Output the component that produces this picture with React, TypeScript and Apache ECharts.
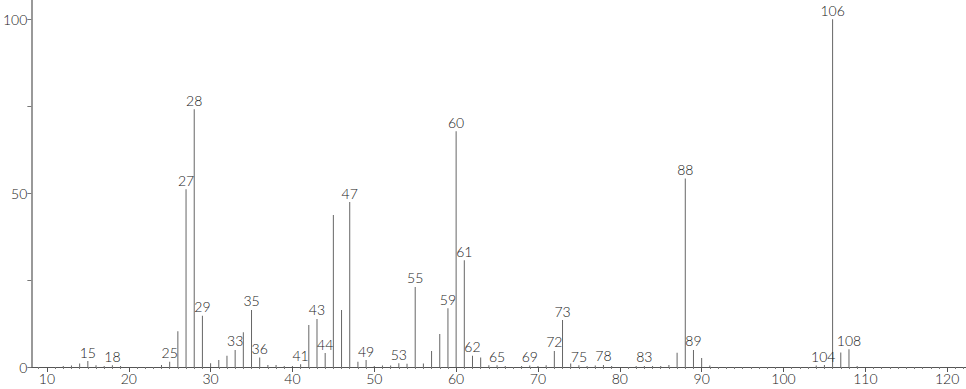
import React, { useEffect, useRef } from "react";
import * as echarts from "echarts";

const mz = [12, 13, 14, 15, 16, 17, 18, 19, 24, 25, 26, 27, 28, 29, 30, 31, 32, 33, 34, 35, 36, 37, 38, 39, 40, 41, 42, 43, 44, 45, 46, 47, 48, 49, 50, 51, 52, 53, 54, 55, 56, 57, 58, 59, 60, 61, 62, 63, 64, 65, 66, 68, 69, 70, 71, 72, 73, 74, 75, 76, 77, 78, 79, 82, 83, 84, 85, 86, 87, 88, 89, 90, 91, 104, 105, 106, 107, 108, 109];
const intensity = [0.3, 0.4, 1.0, 1.7, 0.5, 0.3, 0.5, 0.3, 0.6, 1.5, 10.3, 51.1, 74.1, 14.7, 1.1, 2.0, 3.2, 4.9, 10.0, 16.4, 2.7, 0.6, 0.6, 0.3, 0.3, 0.8, 12.1, 13.8, 4.0, 43.7, 16.4, 47.4, 1.5, 2.0, 0.3, 0.4, 0.4, 1.1, 0.9, 23.0, 1.0, 4.6, 9.5, 16.9, 67.8, 30.7, 3.2, 2.7, 0.5, 0.5, 0.3, 0.3, 0.4, 0.3, 0.5, 4.6, 13.5, 1.0, 0.5, 0.3, 0.4, 0.6, 0.3, 0.3, 0.3, 0.3, 0.3, 0.6, 4.1, 54.2, 4.9, 2.6, 0.4, 0.4, 0.6, 100, 4.2, 5.1, 0.3];
const labelled = [15, 18, 25, 27, 28, 29, 33, 35, 36, 41, 43, 44, 47, 49, 53, 55, 59, 60, 61, 62, 65, 69, 72, 73, 75, 78, 83, 88, 89, 104, 106, 108];
const labelShift: Record<number, number> = { 104: 7 };
const xTicks = [10, 20, 30, 40, 50, 60, 70, 80, 90, 100, 110, 120];
const yTicks = [0, 25, 50, 75, 100];
const yLabels = [0, 50, 100];

const FONT = "'Lato Light', Lato, sans-serif";

export default function App() {
  const ref = useRef<HTMLDivElement>(null);
  useEffect(() => {
    if (!ref.current) return;
    const chart = echarts.init(ref.current, undefined, { renderer: "svg" });
    const minorTicks: number[] = [];
    for (let v = 9; v <= 122; v++) if (v % 10 !== 0) minorTicks.push(v);
    const data = mz.map((m, i) => {
      const item: any = { value: [m, intensity[i]] };
      if (labelled.includes(m)) {
        item.label = {
          show: true,
          position: "top",
          distance: 2,
          formatter: String(m),
          offset: [labelShift[m] || 0, 0],
        };
      }
      return item;
    });
    chart.setOption({
      animation: false,
      grid: { left: 29, right: 0, top: 0, bottom: 22, containLabel: false },
      xAxis: [
        {
          type: "value",
          min: 8.1,
          max: 122.3,
          axisLine: { show: true, lineStyle: { color: "#555", width: 1 } },
          axisTick: { show: true, length: 5, lineStyle: { color: "#555" }, customValues: xTicks },
          axisLabel: {
            show: true,
            customValues: xTicks,
            color: "#222",
            fontFamily: FONT,
            fontWeight: 300,
            fontSize: 14,
            margin: 4,
          },
          splitLine: { show: false },
        },
        {
          type: "value",
          position: "bottom",
          min: 8.1,
          max: 122.3,
          axisLine: { show: false },
          axisTick: { show: true, length: 2, lineStyle: { color: "#777" }, customValues: minorTicks },
          axisLabel: { show: false },
          splitLine: { show: false },
        },
      ],
      yAxis: {
        type: "value",
        min: 0,
        max: 105.5,
        axisLine: { show: true, lineStyle: { color: "#999", width: 2 } },
        axisTick: { show: true, length: 4, lineStyle: { color: "#777" }, customValues: yTicks },
        axisLabel: {
          show: true,
          customValues: yLabels,
          color: "#222",
          fontFamily: FONT,
          fontWeight: 300,
          fontSize: 14,
          margin: 4,
        },
        splitLine: { show: false },
      },
      series: [
        {
          type: "bar",
          xAxisIndex: 0,
          barWidth: 1,
          itemStyle: { color: "#666" },
          label: { show: false, color: "#222", fontFamily: FONT, fontWeight: 300, fontSize: 14 },
          data,
        },
      ],
    });
    return () => chart.dispose();
  }, []);
  return (
    <div
      ref={ref}
      style={{ position: "fixed", left: 0, top: 0, width: 966, height: 389, background: "#fff" }}
    />
  );
}
